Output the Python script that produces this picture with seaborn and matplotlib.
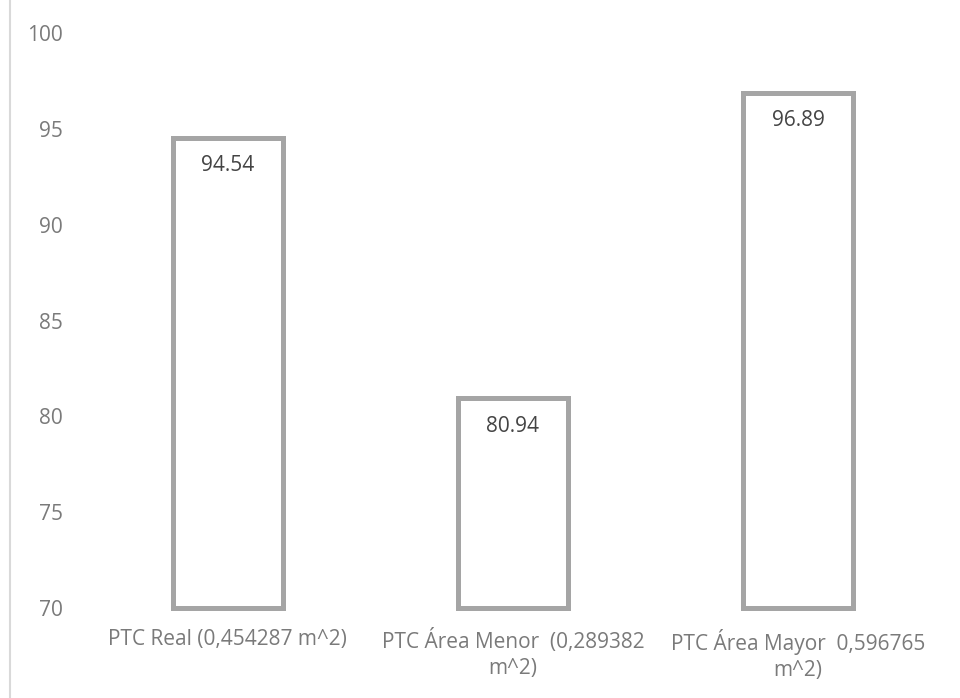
import matplotlib
matplotlib.use("Agg")
import matplotlib.pyplot as plt
from matplotlib.lines import Line2D
import seaborn as sns
import pandas as pd

categories = [
    "PTC Real (0,454287 m^2)",
    "PTC Área Menor  (0,289382\nm^2)",
    "PTC Área Mayor  0,596765\nm^2)",
]
ptc_values = [94.54, 80.94, 96.89]
y_ticks = [70, 75, 80, 85, 90, 95, 100]

sns.set_theme(style="white")
plt.rcParams["font.family"] = ["Open Sans", "DejaVu Sans"]

df = pd.DataFrame({"caso": categories, "valor": ptc_values})

fig = plt.figure(figsize=(9.6, 6.98), dpi=100)
ax = fig.add_axes([0.0885, 0.1289, 0.8915, 0.8238])

sns.barplot(data=df, x="caso", y="valor", ax=ax, color="white",
            edgecolor="#a5a5a5", linewidth=3.6, width=0.385, saturation=1)

base = y_ticks[0]
for patch in ax.patches:
    top = patch.get_y() + patch.get_height()
    patch.set_y(base)
    patch.set_height(top - base)
    patch.set_clip_on(False)
    patch.set_joinstyle("miter")

ax.set_ylim(base, y_ticks[-1])
ax.set_yticks(y_ticks)
ax.set_xlabel("")
ax.set_ylabel("")
sns.despine(ax=ax, left=True, bottom=True)
ax.tick_params(axis="y", length=0, pad=16, labelsize=15, labelcolor="#7a7a7a")
ax.tick_params(axis="x", length=0, pad=15, labelsize=15, labelcolor="#7a7a7a")
for lbl in ax.get_xticklabels():
    lbl.set_linespacing(1.3)

for i, v in enumerate(ptc_values):
    ax.annotate(f"{v:.2f}", xy=(i, v), xytext=(0, -28), textcoords="offset pixels",
                ha="center", va="center", fontsize=15, color="#444444")

# thin frame line along the left side of the figure
fig.add_artist(Line2D([9.5 / 960, 9.5 / 960], [0, 1], transform=fig.transFigure,
                      color="#d9d9d9", linewidth=1.5))

fig.savefig("out.png", dpi=100)
